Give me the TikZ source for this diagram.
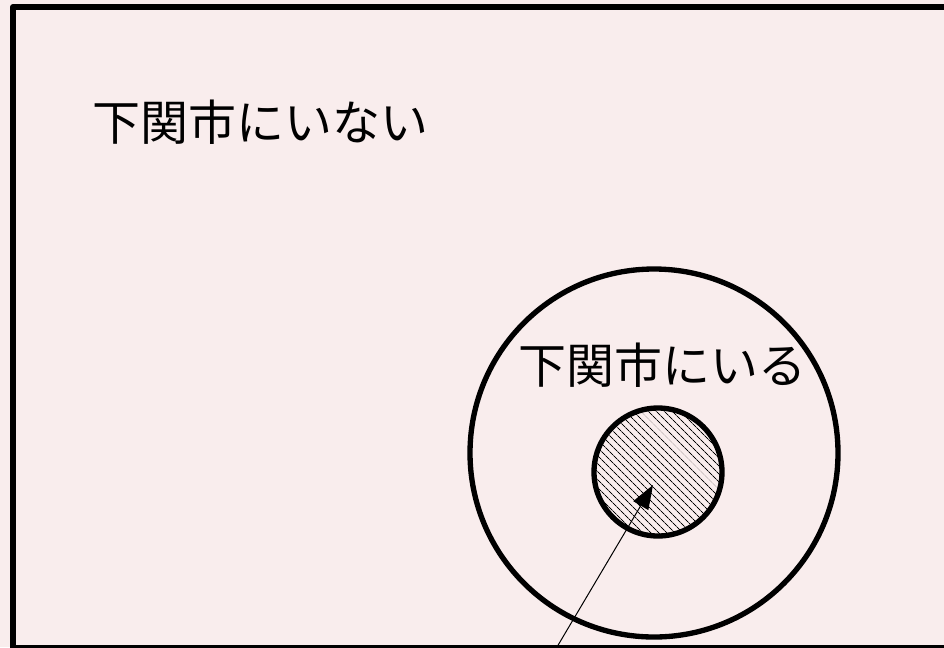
\documentclass[tikz,border=0pt]{standalone}
\usepackage{fontspec}
\newfontfamily\jpfont{Noto Sans CJK JP}
\usetikzlibrary{patterns.meta,arrows.meta}
\definecolor{bgpink}{RGB}{249,237,237}
\tikzset{
  ring/.style={draw=black, line width=4pt},
  lbl/.style={font=\jpfont\fontsize{36pt}{40pt}\selectfont, inner sep=0pt, anchor=center},
  pointer/.style={draw=black, line width=0.75pt, -{Triangle[length=18pt,width=13pt]}},
}
\begin{document}
\begin{tikzpicture}[x=0.75pt,y=-0.75pt]
\useasboundingbox (0,0) rectangle (944,647);
\fill[bgpink] (0,0) rectangle (944,647);
\draw[line width=4.5pt, line join=round] (960,648) -- (13,648) -- (13,7) -- (960,7);
\node[lbl] (outside) at (260,122) {下関市にいない};
\draw[ring] (654,453) circle[radius=184];
\node[lbl] (inside) at (662,365) {下関市にいる};
\fill[pattern={Lines[angle=-45,distance=4pt,line width=0.7pt]}] (658,472) circle[radius=64];
\draw[ring] (658,472) circle[radius=64];
\coordinate (hatch) at (653,485);
\coordinate (start) at (554,652);
\draw[pointer] (start) -- (hatch);
\end{tikzpicture}
\end{document}
